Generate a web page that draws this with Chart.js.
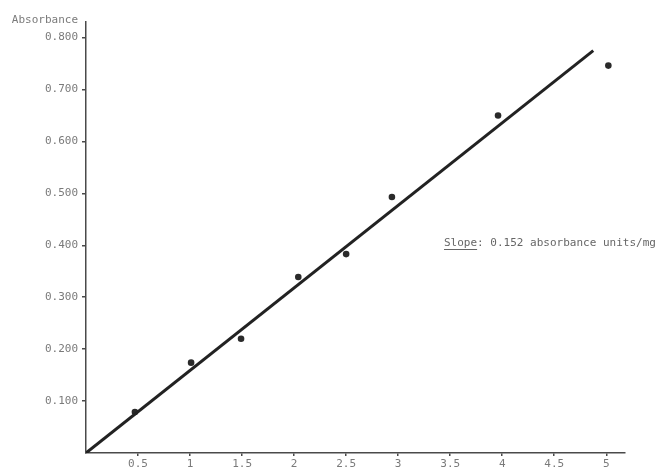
<!DOCTYPE html>
<html>
<head>
<meta charset="utf-8">
<script src="https://cdn.jsdelivr.net/npm/chart.js@4.4.1/dist/chart.umd.min.js"></script>
<style>
html,body{margin:0;padding:0;background:#fff;}
#wrap{width:657px;height:468px;position:relative;}
</style>
</head>
<body>
<div id="wrap"><canvas id="c" width="657" height="468"></canvas></div>
<script>
// Measured data: mass (mg) vs absorbance
const massMg = [0.47, 1.01, 1.49, 2.04, 2.50, 2.94, 3.96, 5.02];
const absorbance = [0.079, 0.174, 0.220, 0.339, 0.383, 0.493, 0.650, 0.746];
// Fitted line end points (drawn line in the figure)
const fitX = [0, 4.875];
const fitY = [0, 0.775];
// Tick labels
const xTicks = [0.5, 1, 1.5, 2, 2.5, 3, 3.5, 4, 4.5, 5];
const yTicks = [0.1, 0.2, 0.3, 0.4, 0.5, 0.6, 0.7, 0.8];
const yTitle = 'Absorbance';
const slopeLabel = 'Slope';
const slopeText = ': 0.152 absorbance units/mg';

const FONT = "'DejaVu Sans Mono', monospace";
const textColor = '#7a7a7a';
const axisColor = '#4a4a4a';

const annot = {
  id: 'annot',
  afterDraw(chart) {
    const ctx = chart.ctx;
    const ca = chart.chartArea;
    ctx.save();
    ctx.font = '11px ' + FONT;
    ctx.fillStyle = textColor;
    ctx.textAlign = 'right';
    ctx.textBaseline = 'middle';
    ctx.fillText(yTitle, ca.left - 8, 20);
    // slope note
    ctx.textAlign = 'left';
    ctx.fillStyle = '#666';
    const sx = 444, sy = 243;
    ctx.fillText(slopeLabel, sx, sy);
    const w = ctx.measureText(slopeLabel).width;
    ctx.fillText(slopeText, sx + w, sy);
    ctx.strokeStyle = '#666';
    ctx.lineWidth = 1;
    ctx.beginPath();
    ctx.moveTo(sx, sy + 6.5);
    ctx.lineTo(sx + w, sy + 6.5);
    ctx.stroke();
    ctx.restore();
  }
};

new Chart(document.getElementById('c'), {
  type: 'scatter',
  data: {
    datasets: [
      {
        label: 'fit',
        data: fitX.map((x, i) => ({x: x, y: fitY[i]})),
        showLine: true,
        borderColor: '#222',
        borderWidth: 3,
        pointRadius: 0,
        fill: false
      },
      {
        label: 'data',
        data: massMg.map((x, i) => ({x: x, y: absorbance[i]})),
        pointRadius: 3.3,
        pointBackgroundColor: '#2a2a2a',
        pointBorderColor: '#2a2a2a',
        pointBorderWidth: 0
      }
    ]
  },
  plugins: [annot],
  options: {
    responsive: false,
    animation: false,
    devicePixelRatio: 1,
    layout: {padding: {top: 22, right: 32, left: 0, bottom: 0}},
    plugins: {legend: {display: false}, tooltip: {enabled: false}},
    scales: {
      x: {
        type: 'linear',
        min: 0,
        max: 5.18,
        afterBuildTicks: s => { s.ticks = xTicks.map(v => ({value: v})); },
        afterFit: s => { s.height = 15; },
        border: {display: true, color: axisColor, width: 1.5},
        grid: {display: true, drawOnChartArea: false, drawTicks: true, tickLength: 3, color: axisColor, lineWidth: 1.5},
        ticks: {
          color: textColor,
          font: {family: FONT, size: 11},
          padding: 2,
          maxRotation: 0,
          autoSkip: false,
          callback: v => String(v)
        }
      },
      y: {
        type: 'linear',
        min: 0,
        max: 0.83,
        afterBuildTicks: s => { s.ticks = yTicks.map(v => ({value: v})); },
        afterFit: s => { s.width = 86; },
        border: {display: true, color: axisColor, width: 1.5},
        grid: {display: true, drawOnChartArea: false, drawTicks: true, tickLength: 4, color: axisColor, lineWidth: 1.5},
        ticks: {
          color: textColor,
          font: {family: FONT, size: 11},
          padding: 4,
          autoSkip: false,
          callback: v => Number(v).toFixed(3)
        }
      }
    }
  }
});
</script>
</body>
</html>
